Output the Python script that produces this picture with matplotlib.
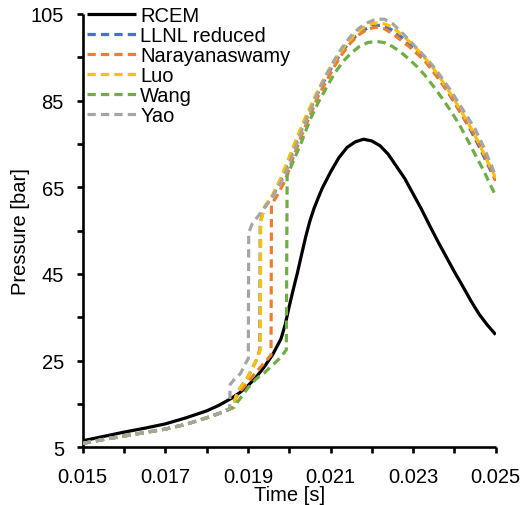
import matplotlib
matplotlib.use("Agg")
import matplotlib.pyplot as plt
from matplotlib.ticker import FixedLocator, FuncFormatter

plt.rcParams['font.family'] = ['Liberation Sans', 'DejaVu Sans']

# ---------------- data ----------------
t_rcem = [0.0150, 0.0155, 0.0160, 0.0165, 0.0170, 0.0175, 0.0180, 0.0183, 0.0186, 0.0188,
          0.0190, 0.0192, 0.0194, 0.0196, 0.0198, 0.0199, 0.0200, 0.0201, 0.0202, 0.0203,
          0.0204, 0.0205, 0.0206, 0.0207, 0.0208, 0.0210, 0.0212, 0.0214, 0.0216, 0.0218,
          0.0220, 0.0222, 0.0224, 0.0226, 0.0228, 0.0230, 0.0232, 0.0234, 0.0236, 0.0238,
          0.0240, 0.0242, 0.0244, 0.0246, 0.0248, 0.0250]
p_rcem = [6.5, 7.5, 8.5, 9.4, 10.4, 11.8, 13.4, 14.7, 16.3, 17.6,
          19.2, 21.2, 23.6, 26.4, 30.0, 33.2, 37.5, 41.5, 45.3, 49.5,
          53.6, 57.2, 60.1, 62.5, 64.8, 68.5, 71.8, 74.2, 75.5, 76.1,
          75.7, 74.6, 72.6, 69.8, 67.0, 63.5, 60.0, 56.2, 52.5, 49.0,
          45.5, 42.2, 38.8, 35.7, 33.2, 31.0]

t_llnl = [0.0150, 0.0155, 0.0160, 0.0165, 0.0170, 0.0175, 0.0180, 0.0183, 0.01855, 0.01866,
          0.01870, 0.0188, 0.0190, 0.0192, 0.01929, 0.01930, 0.0194, 0.0196, 0.0198, 0.0200,
          0.0202, 0.0204, 0.0206, 0.0208, 0.0210, 0.0212, 0.0214, 0.0216, 0.0218, 0.0220,
          0.0222, 0.0224, 0.0226, 0.0228, 0.0230, 0.0232, 0.0234, 0.0236, 0.0238, 0.0240,
          0.0242, 0.0244, 0.0246, 0.0248, 0.0250]
p_llnl = [5.9, 6.8, 7.6, 8.4, 9.2, 10.3, 11.8, 12.8, 13.8, 14.2,
          16.5, 18.5, 21.2, 25.0, 27.5, 57.0, 60.3, 63.0, 66.8, 71.5,
          76.3, 80.8, 85.0, 88.8, 92.2, 95.2, 97.8, 99.8, 101.3, 102.2,
          102.4, 101.8, 100.6, 99.0, 97.2, 95.2, 93.0, 90.4, 87.6, 84.6,
          81.4, 78.1, 74.4, 70.4, 66.6]

t_nara = [0.0150, 0.0155, 0.0160, 0.0165, 0.0170, 0.0175, 0.0180, 0.0183, 0.01855, 0.01866,
          0.01870, 0.0188, 0.0190, 0.0192, 0.0194, 0.01956, 0.01957, 0.0197, 0.0199, 0.0201,
          0.0203, 0.0205, 0.0207, 0.0209, 0.0211, 0.0213, 0.0215, 0.0217, 0.0219, 0.0221,
          0.0223, 0.0225, 0.0227, 0.0229, 0.0231, 0.0233, 0.0235, 0.0237, 0.0239, 0.0241,
          0.0243, 0.0245, 0.0247, 0.0249, 0.0250]
p_nara = [5.9, 6.8, 7.6, 8.4, 9.2, 10.3, 11.8, 12.8, 13.8, 14.2,
          16.3, 17.8, 20.0, 22.4, 24.5, 26.3, 61.0, 63.0, 66.5, 72.0,
          77.0, 81.5, 86.0, 89.5, 93.0, 96.0, 98.5, 100.3, 101.5, 102.0,
          101.6, 100.5, 99.0, 97.5, 95.8, 94.0, 91.5, 89.0, 86.3, 83.0,
          80.0, 77.0, 73.0, 69.0, 66.5]

t_luo = [0.0150, 0.0155, 0.0160, 0.0165, 0.0170, 0.0175, 0.0180, 0.0183, 0.01855, 0.01866,
         0.01870, 0.0188, 0.0190, 0.0192, 0.01930, 0.01931, 0.0194, 0.0196, 0.0198, 0.0200,
         0.0202, 0.0204, 0.0206, 0.0208, 0.0210, 0.0212, 0.0214, 0.0216, 0.0218, 0.0220,
         0.0222, 0.0224, 0.0226, 0.0228, 0.0230, 0.0232, 0.0234, 0.0236, 0.0238, 0.0240,
         0.0242, 0.0244, 0.0246, 0.0248, 0.0250]
p_luo = [5.9, 6.8, 7.6, 8.4, 9.2, 10.3, 11.8, 12.8, 13.8, 14.2,
         16.5, 18.5, 21.2, 25.0, 27.5, 57.0, 60.5, 63.3, 67.2, 72.0,
         76.8, 81.3, 85.5, 89.3, 92.7, 95.7, 98.3, 100.4, 101.9, 102.8,
         103.0, 102.4, 101.2, 99.6, 97.8, 95.8, 93.6, 91.0, 88.2, 85.2,
         82.0, 78.7, 75.0, 71.0, 67.2]

t_wang = [0.0150, 0.0155, 0.0160, 0.0165, 0.0170, 0.0175, 0.0180, 0.0183, 0.01855, 0.01865,
          0.01875, 0.0188, 0.0190, 0.0192, 0.0194, 0.0196, 0.0198, 0.01993, 0.01995, 0.0201,
          0.0203, 0.0205, 0.0207, 0.0209, 0.0211, 0.0213, 0.0215, 0.0217, 0.0219, 0.0221,
          0.0223, 0.0225, 0.0227, 0.0229, 0.0231, 0.0233, 0.0235, 0.0237, 0.0239, 0.0241,
          0.0243, 0.0245, 0.0247, 0.0249, 0.0250]
p_wang = [5.9, 6.8, 7.6, 8.4, 9.2, 10.3, 11.8, 12.8, 13.8, 14.3,
          15.5, 16.1, 18.7, 20.8, 22.2, 24.0, 25.8, 27.5, 67.7, 71.0,
          75.5, 80.5, 84.5, 88.0, 91.3, 94.0, 96.0, 97.5, 98.4, 98.7,
          98.4, 97.5, 96.2, 94.6, 92.8, 90.7, 88.2, 85.6, 82.8, 79.8,
          76.3, 72.6, 69.0, 65.0, 63.0]

t_yao = [0.0150, 0.0155, 0.0160, 0.0165, 0.0170, 0.0175, 0.0180, 0.0183, 0.01856, 0.01857,
         0.01870, 0.01882, 0.01895, 0.01901, 0.01902, 0.0191, 0.0193, 0.0195, 0.0197, 0.0199,
         0.0201, 0.0203, 0.0205, 0.0207, 0.0209, 0.0211, 0.0213, 0.0215, 0.0217, 0.0219,
         0.0221, 0.0223, 0.0225, 0.0227, 0.0229, 0.0231, 0.0233, 0.0235, 0.0237, 0.0239,
         0.0241, 0.0243, 0.0245, 0.0247, 0.0249, 0.0250]
p_yao = [5.9, 6.8, 7.6, 8.4, 9.2, 10.3, 11.8, 12.8, 14.0, 19.5,
         21.0, 22.0, 24.5, 25.5, 54.5, 56.5, 59.0, 61.5, 64.5, 68.0,
         73.0, 78.0, 82.5, 87.0, 91.0, 94.5, 97.5, 100.0, 101.8, 103.0,
         103.8, 103.8, 102.8, 101.0, 99.0, 97.0, 95.0, 92.8, 90.2, 87.5,
         84.5, 81.5, 78.5, 74.5, 70.0, 67.5]

series_labels = ["RCEM", "LLNL reduced", "Narayanaswamy", "Luo", "Wang", "Yao"]
series_colors = ["#000000", "#4472C4", "#ED7D31", "#FFC000", "#70AD47", "#A5A5A5"]

x_major = [0.015, 0.017, 0.019, 0.021, 0.023, 0.025]
x_minor = [0.016, 0.018, 0.020, 0.022, 0.024]
y_major = [5, 25, 45, 65, 85, 105]
y_minor = [15, 35, 55, 75, 95]

# ---------------- plot ----------------
W, H = 526, 506
fig = plt.figure(figsize=(W / 100, H / 100), dpi=100)
ax = fig.add_axes([82.7 / W, (H - 448.3) / H, 413.0 / W, 433.3 / H])

data = [(t_rcem, p_rcem), (t_llnl, p_llnl), (t_nara, p_nara),
        (t_luo, p_luo), (t_wang, p_wang), (t_yao, p_yao)]
for i, ((tt, pp), lab, col) in enumerate(zip(data, series_labels, series_colors)):
    if i == 0:
        ax.plot(tt, pp, color=col, lw=2.3, label=lab, solid_capstyle='butt', zorder=2)
    else:
        ax.plot(tt, pp, color=col, lw=2.3, label=lab, linestyle=(0, (2.6, 1.6)),
                dash_capstyle='butt', zorder=3)

ax.set_xlim(0.015, 0.025)
ax.set_ylim(5, 105)

for s in ['top', 'right']:
    ax.spines[s].set_visible(False)
for s in ['left', 'bottom']:
    ax.spines[s].set_linewidth(1.9)
    ax.spines[s].set_capstyle('butt')

ax.xaxis.set_major_locator(FixedLocator(x_major))
ax.xaxis.set_minor_locator(FixedLocator(x_minor))
ax.yaxis.set_major_locator(FixedLocator(y_major))
ax.yaxis.set_minor_locator(FixedLocator(y_minor))
ax.xaxis.set_major_formatter(FuncFormatter(lambda v, p: f"{v:.3f}"))
ax.yaxis.set_major_formatter(FuncFormatter(lambda v, p: f"{v:.0f}"))

FS = 14.5
ax.tick_params(axis='both', which='both', direction='out', length=4.5, width=1.9,
               labelsize=FS, colors='black')
ax.tick_params(axis='x', which='major', pad=9.5)
ax.tick_params(axis='y', which='major', pad=9)

ax.set_xlabel("Time [s]", fontsize=FS, labelpad=-0.5)
ax.set_ylabel("Pressure [bar]", fontsize=FS, labelpad=0.5)

leg = ax.legend(loc='upper left', bbox_to_anchor=(87 / W, (H - 7) / H),
                bbox_transform=fig.transFigure, frameon=False, fontsize=FS,
                handlelength=2.45, handletextpad=0.2, labelspacing=0.05,
                borderpad=0, borderaxespad=0)

fig.savefig("out.png", dpi=100)
